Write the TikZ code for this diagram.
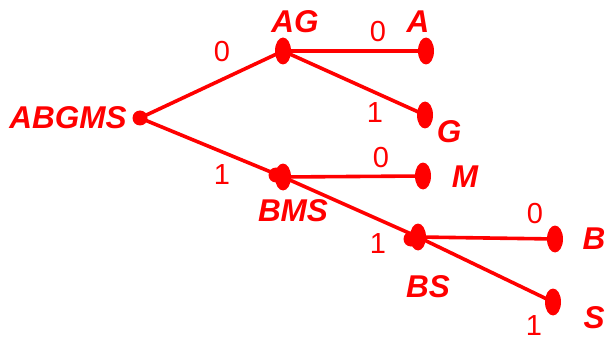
\documentclass[tikz,border=0pt]{standalone}
\usepackage{fontspec}
\setmainfont{Liberation Sans}
\usetikzlibrary{shapes.geometric}
\definecolor{tred}{RGB}{255,0,0}
\tikzset{
  leaf/.style={ellipse, fill=tred, inner sep=0pt, minimum width=16pt, minimum height=27pt},
  rootdot/.style={circle, fill=tred, inner sep=0pt, minimum size=15pt},
  blob/.style={circle, fill=tred, inner sep=0pt, minimum size=15pt},
  edge/.style={draw=tred, line width=3.6pt},
  lbl/.style={text=tred, font=\fontsize{31.5}{32}\selectfont\bfseries\itshape, inner sep=0pt},
  bit/.style={text=tred, font=\fontsize{29}{30}\selectfont, inner sep=0pt},
}
\begin{document}
\begin{tikzpicture}[x=1pt,y=-1pt]
\useasboundingbox (0,0) rectangle (605,342);
% nodes
\node[rootdot] (r) at (140,118) {};
\node[leaf] (ag) at (283,51) {};
\node[leaf] (a) at (426,51) {};
\node[leaf] (g) at (425,115) {};
\node[blob] at (276,175) {};
\node[leaf] (bms) at (283,177) {};
\node[leaf] (m) at (423,176) {};
\node[blob] at (411,239) {};
\node[leaf] (bs) at (418,237) {};
\node[leaf] (b) at (555,239) {};
\node[leaf] (s) at (553,302) {};
% edges
\draw[edge] (r.center) -- (ag.center);
\draw[edge] (ag.center) -- (a.center);
\draw[edge] (ag.center) -- (g.center);
\draw[edge] (r.center) -- (bms.center);
\draw[edge] (bms.center) -- (m.center);
\draw[edge] (bms.center) -- (bs.center);
\draw[edge] (bs.center) -- (b.center);
\draw[edge] (bs.center) -- (s.center);
% labels
\node[lbl] (tr) at (68,118) {ABGMS};
\node[lbl] (tag) at (295,22) {AG};
\node[lbl] (ta) at (418,22) {A};
\node[lbl] (tg) at (449,132) {G};
\node[lbl] (tm) at (465,177) {M};
\node[lbl] (tbms) at (293,211) {BMS};
\node[lbl] (tbs) at (428,287) {BS};
\node[lbl] (tb) at (594,239) {B};
\node[lbl] (ts) at (594,318) {S};
% bits
\node[bit] (b1) at (222,52) {0};
\node[bit] (b2) at (222,175) {1};
\node[bit] (b3) at (378,32) {0};
\node[bit] (b4) at (375,113) {1};
\node[bit] (b5) at (381,158) {0};
\node[bit] (b6) at (378,244) {1};
\node[bit] (b7) at (535,214) {0};
\node[bit] (b8) at (534,326) {1};
\end{tikzpicture}
\end{document}
